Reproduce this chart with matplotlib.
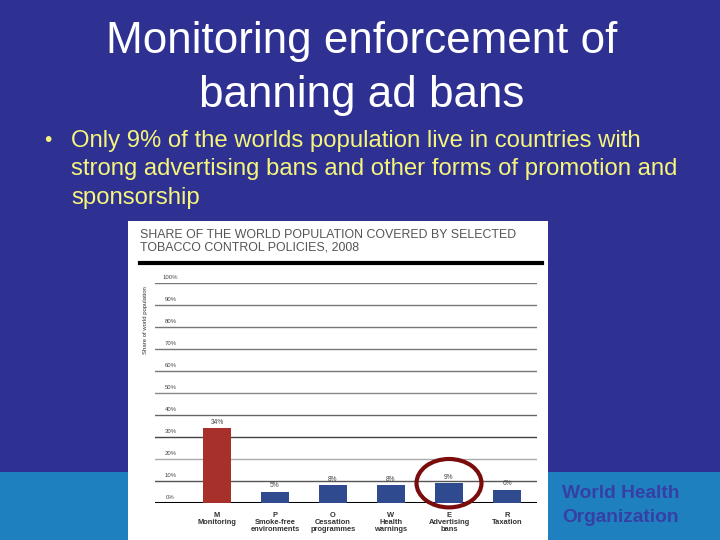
import matplotlib
matplotlib.use("Agg")
import matplotlib.pyplot as plt
from matplotlib.patches import Rectangle, Ellipse

# ---- data ----
codes = ["M", "P", "O", "W", "E", "R"]
names = ["Monitoring", "Smoke-free\nenvironments", "Cessation\nprogrammes",
         "Health\nwarnings", "Advertising\nbans", "Taxation"]
shares = [34, 5, 8, 8, 9, 6]
ticks = [0, 10, 20, 30, 40, 50, 60, 70, 80, 90, 100]
tick_labels = ["0%", "10%", "20%", "30%", "40%", "50%", "60%", "70%", "80%", "90%", "100%"]
highlight = "E"

title_lines = ["Monitoring enforcement of", "banning ad bans"]
bullet = ["Only 9% of the worlds population live in countries with",
          "strong advertising bans and other forms of promotion and",
          "sponsorship"]
chart_title = "SHARE OF THE WORLD POPULATION COVERED BY SELECTED\nTOBACCO CONTROL POLICIES, 2008"

plt.rcParams['font.family'] = ['Liberation Sans', 'DejaVu Sans']

DARK = "#2E3192"
BAND = "#1F80C0"
YELLOW = "#F5F57D"
fig = plt.figure(figsize=(7.2, 5.4), dpi=100)
fig.patch.set_facecolor(DARK)

# bottom band
fig.patches.append(Rectangle((0, 0), 1, 68/540, transform=fig.transFigure,
                             facecolor=BAND, edgecolor="none", zorder=0))
# white chart panel
fig.patches.append(Rectangle((128/720, 0), 420/720, (540-221)/540, transform=fig.transFigure,
                             facecolor="white", edgecolor="none", zorder=1))

# slide title and bullet
fig.text(362/720, 1-42/540, title_lines[0], color="white", fontsize=31.7,
         ha="center", va="center")
fig.text(362/720, 1-95/540, title_lines[1], color="white", fontsize=31.7,
         ha="center", va="center")
fig.text(48/720, 1-141/540, "•", color=YELLOW, fontsize=15, ha="center", va="center")
for i, line in enumerate(bullet):
    fig.text(71/720, 1-(141+28.3*i)/540, line, color=YELLOW, fontsize=17.2,
             ha="left", va="center")

# WHO logo text
fig.text(562/720, 1-493/540, "World Health", color="#3640A4", fontsize=13.8,
         fontweight="bold", ha="left", va="center")
fig.text(562/720, 1-517/540, "Organization", color="#3640A4", fontsize=13.8,
         fontweight="bold", ha="left", va="center")

# chart heading
fig.text(140/720, 1-241/540, chart_title, color="#555555", fontsize=8.9,
         ha="left", va="center", linespacing=1.1)
fig.add_artist(plt.Line2D([140/720, 542/720], [1-263/540, 1-263/540],
                          transform=fig.transFigure, color="black", lw=3, zorder=3))
fig.text(145/720, 1-320/540, "Share of world population", color="#333333", fontsize=4.3,
         rotation=90, ha="center", va="center")

# chart axes
ax = fig.add_axes([155/720, (540-503)/540, (537-155)/720, (503-283)/540])
ax.set_zorder(4)
ax.patch.set_alpha(0)
ax.set_xlim(-62/58, 5 + 30/58)
ax.set_ylim(0, 100)
for s in ax.spines.values():
    s.set_visible(False)
ax.set_xticks([])
ax.set_yticks([])

grid_colors = {0: "black", 10: "#555555", 20: "#aaaaaa", 30: "#444444", 40: "#666666",
               50: "#888888", 60: "#777777", 70: "#777777", 80: "#777777", 90: "#777777", 100: "#777777"}
for t, lab in zip(ticks, tick_labels):
    ax.axhline(t, color=grid_colors[t], lw=2.2 if t == 0 else 1.0, zorder=1)
    ax.text(-0.8, t + 1.3, lab, fontsize=4.3, color="#444444", ha="center", va="bottom")

xs = list(range(len(codes)))
colors = ["#A8302A" if c == "M" else "#2F4A8E" for c in codes]
ax.bar(xs, shares, width=0.48, color=colors, edgecolor="none", zorder=2)
for x, v in zip(xs, shares):
    ax.text(x, v + 1.2, f"{v}%", fontsize=4.8, color="#444444", ha="center", va="bottom")
    ax.text(x, -4.2, f"{codes[x]}\n{names[x]}", fontsize=5.4, color="#333333",
            ha="center", va="top", fontweight="bold", linespacing=1.0, clip_on=False)

hi = codes.index(highlight)
ax.add_patch(Ellipse((hi, shares[hi]), 1.12, 22, fill=False, edgecolor="#7A0C0C",
                     lw=3, zorder=5, clip_on=False))

fig.savefig("out.png", dpi=100, facecolor=fig.get_facecolor())
